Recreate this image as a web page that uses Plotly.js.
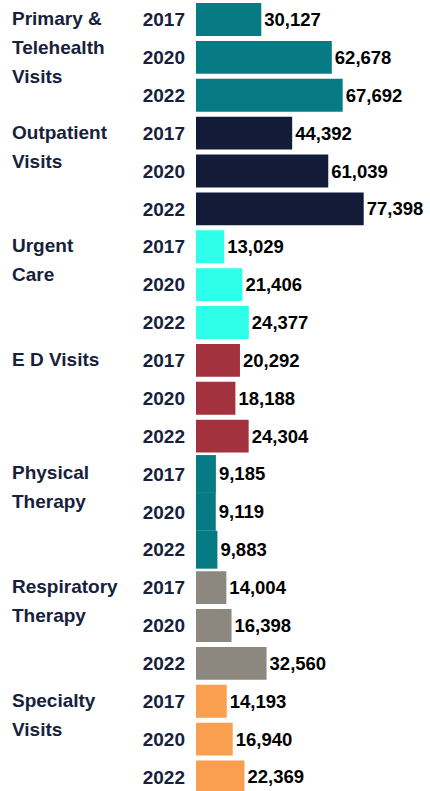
<!DOCTYPE html>
<html>
<head>
<meta charset="utf-8">
<script src="https://cdn.plot.ly/plotly-3.0.1.min.js"></script>
<style>html,body{margin:0;padding:0;background:#fff;}#chart{width:430px;height:791px;}</style>
</head>
<body>
<div id="chart"></div>
<script>
// ---- data ----
var categories = ["Primary &<br>Telehealth<br>Visits", "Outpatient<br>Visits", "Urgent<br>Care", "E D Visits", "Physical<br>Therapy", "Respiratory<br>Therapy", "Specialty<br>Visits"];
var years = ["2017", "2020", "2022"];
var primaryTelehealth = [30127, 62678, 67692];
var outpatient = [44392, 61039, 77398];
var urgentCare = [13029, 21406, 24377];
var edVisits = [20292, 18188, 24304];
var physicalTherapy = [9185, 9119, 9883];
var respiratoryTherapy = [14004, 16398, 32560];
var specialty = [14193, 16940, 22369];

// ---- style ----
var seriesValues = [primaryTelehealth, outpatient, urgentCare, edVisits, physicalTherapy, respiratoryTherapy, specialty];
var colors = ["#077B83", "#121C38", "#2EFFE8", "#A4313E", "#077B83", "#8C8880", "#FA9E50"];
var labelColor = "#17213C";
var font = "Liberation Sans, Arial, sans-serif";

var y = [], x = [], text = [], barColors = [], widths = [], tickvals = [], ticktext = [];
var annotations = [];
seriesValues.forEach(function (vals, ci) {
  vals.forEach(function (v, yi) {
    var idx = ci * years.length + yi;
    y.push(idx);
    x.push(v);
    text.push(v.toLocaleString("en-US"));
    barColors.push(colors[ci]);
    widths.push(ci === 4 ? 1.0 : 0.87);
    tickvals.push(idx);
    ticktext.push(years[yi]);
  });
  var lines = categories[ci].split("<br>");
  lines.forEach(function (ln, li) {
    annotations.push({
      xref: "paper", yref: "y",
      x: -186 / 234, y: ci * years.length,
      xanchor: "left", yanchor: "middle",
      yshift: -29 * li + 1,
      text: ln, showarrow: false,
      font: {family: font, size: 19, color: labelColor, weight: 700}
    });
  });
});

var trace = {
  type: "bar", orientation: "h",
  x: x, y: y, width: widths,
  marker: {color: barColors, line: {width: 0}},
  text: text, textposition: "outside", cliponaxis: false,
  textfont: {family: font, size: 18.5, color: "#000000", weight: 700},
  hoverinfo: "skip"
};

var layout = {
  width: 430, height: 791,
  margin: {l: 196, r: 0, t: 0, b: 0, pad: 0},
  paper_bgcolor: "#ffffff", plot_bgcolor: "#ffffff",
  showlegend: false,
  xaxis: {range: [0, 108000], visible: false, fixedrange: true},
  yaxis: {
    type: "linear", range: [20.37, -0.515],
    tickmode: "array", tickvals: tickvals, ticktext: ticktext,
    showgrid: false, zeroline: false, showline: false, ticks: "",
    ticklabelstandoff: 10,
    tickfont: {family: font, size: 19, color: labelColor, weight: 700},
    fixedrange: true
  },
  annotations: annotations
};

Plotly.newPlot("chart", [trace], layout, {displayModeBar: false, staticPlot: true});
</script>
</body>
</html>
